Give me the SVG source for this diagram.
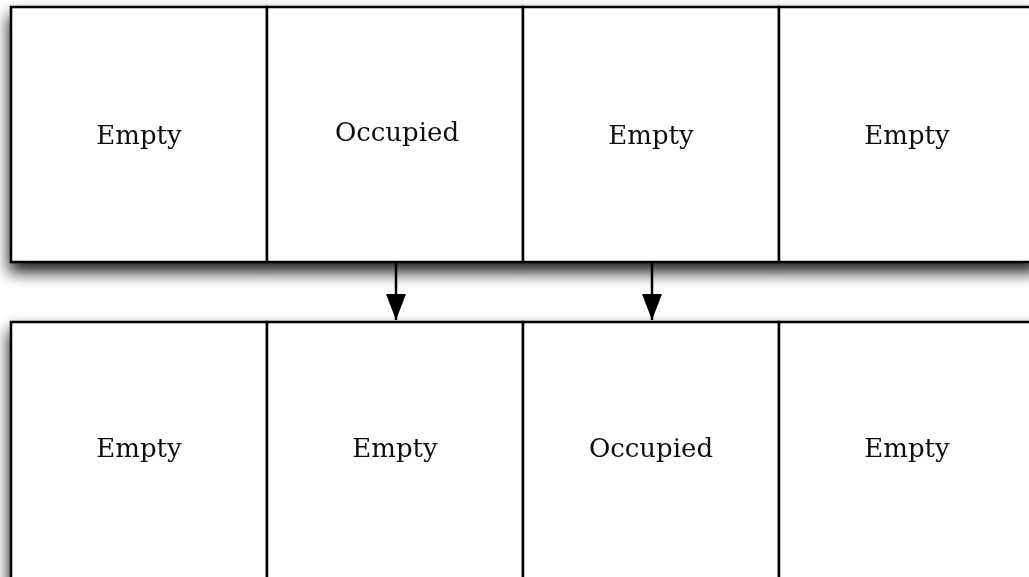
<svg xmlns="http://www.w3.org/2000/svg" width="1029" height="577" viewBox="0 0 1029 577">
  <style>
    .cell { fill: #ffffff; stroke: #000000; stroke-width: 2.5; }
    .label { font-family: "DejaVu Serif", "Liberation Serif", serif; font-size: 26px; fill: #111111; text-anchor: middle; }
    .wire { stroke: #000000; stroke-width: 2.5; fill: none; }
  </style>
  <defs>
    <filter id="shadow" x="-10%" y="-15%" width="120%" height="150%">
      <feGaussianBlur in="SourceAlpha" stdDeviation="8"/>
      <feOffset dx="-1" dy="9"/>
      <feComponentTransfer><feFuncA type="linear" slope="0.9"/></feComponentTransfer>
      <feMerge><feMergeNode/><feMergeNode in="SourceGraphic"/></feMerge>
    </filter>
    <marker id="arrow" markerWidth="26" markerHeight="20" refX="26" refY="10" orient="auto" markerUnits="userSpaceOnUse" viewBox="0 0 26 20">
      <path d="M0,0 L26,10 L0,20 Z" fill="#000000"/>
    </marker>
  </defs>

  <rect width="1029" height="577" fill="#ffffff"/>

  <!-- upper row of slots -->
  <g id="row-top" filter="url(#shadow)">
    <g id="top-0"><rect class="cell" x="11" y="7" width="256" height="255"/><text class="label" x="139" y="144">Empty</text></g>
    <g id="top-1"><rect class="cell" x="267" y="7" width="256" height="255"/><text class="label" x="397" y="141">Occupied</text></g>
    <g id="top-2"><rect class="cell" x="523" y="7" width="256" height="255"/><text class="label" x="651" y="144">Empty</text></g>
    <g id="top-3"><rect class="cell" x="779" y="7" width="260" height="255"/><text class="label" x="907" y="144">Empty</text></g>
  </g>

  <!-- lower row of slots -->
  <g id="row-bottom" filter="url(#shadow)">
    <g id="bottom-0"><rect class="cell" x="11" y="322" width="256" height="262"/><text class="label" x="139" y="457">Empty</text></g>
    <g id="bottom-1"><rect class="cell" x="267" y="322" width="256" height="262"/><text class="label" x="395" y="457">Empty</text></g>
    <g id="bottom-2"><rect class="cell" x="523" y="322" width="256" height="262"/><text class="label" x="651" y="457">Occupied</text></g>
    <g id="bottom-3"><rect class="cell" x="779" y="322" width="260" height="262"/><text class="label" x="907" y="457">Empty</text></g>
  </g>

  <!-- moves between rows -->
  <g id="connectors">
    <line class="wire" x1="396" y1="263" x2="396" y2="320" marker-end="url(#arrow)"/>
    <line class="wire" x1="652" y1="263" x2="652" y2="320" marker-end="url(#arrow)"/>
  </g>
</svg>
